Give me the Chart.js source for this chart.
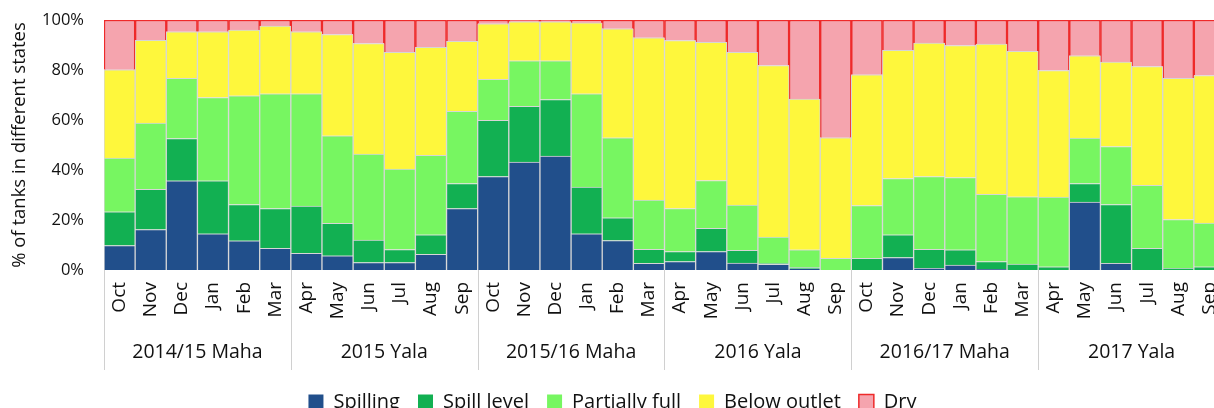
<!DOCTYPE html>
<html>
<head>
<meta charset="utf-8">
<script src="https://cdn.jsdelivr.net/npm/chart.js@4"></script>
<style>
  html, body { margin: 0; padding: 0; background: #fff; overflow: hidden; }
  #wrap { width: 1214px; height: 408px; overflow: hidden; }
</style>
</head>
<body>
<div id="wrap">
  <canvas id="tankChart" width="1225" height="422"></canvas>
</div>
<script>
// month ticks and season groups
const months = ['Oct', 'Nov', 'Dec', 'Jan', 'Feb', 'Mar', 'Apr', 'May', 'Jun', 'Jul', 'Aug', 'Sep',
  'Oct', 'Nov', 'Dec', 'Jan', 'Feb', 'Mar', 'Apr', 'May', 'Jun', 'Jul', 'Aug', 'Sep',
  'Oct', 'Nov', 'Dec', 'Jan', 'Feb', 'Mar', 'Apr', 'May', 'Jun', 'Jul', 'Aug', 'Sep'];
const seasons = ['2014/15 Maha', '2015 Yala', '2015/16 Maha', '2016 Yala', '2016/17 Maha', '2017 Yala'];
const yTicks = [0, 20, 40, 60, 80, 100];

// % of tanks in each state
const spilling = [9.8, 16.2, 35.7, 14.5, 11.7, 8.7, 6.7, 5.7, 3.0, 3.0, 6.3, 24.6,
  37.4, 43.2, 45.6, 14.5, 11.8, 2.7, 3.4, 7.4, 2.8, 2.3, 0.5, 0,
  0, 5.0, 0.7, 2.0, 0.3, 0, 0, 27.2, 2.7, 0, 0, 0];
const spillLevel = [13.5, 16.1, 16.9, 21.2, 14.5, 15.9, 18.9, 13.0, 9.0, 5.2, 7.8, 10.0,
  22.5, 22.3, 22.6, 18.7, 9.1, 5.6, 4.0, 9.3, 5.1, 0.3, 0.5, 0,
  4.7, 9.1, 7.6, 6.1, 3.1, 2.4, 1.3, 7.4, 23.5, 8.7, 0.7, 1.3];
const partiallyFull = [21.5, 26.5, 24.1, 33.3, 43.5, 45.9, 44.9, 35.0, 34.4, 32.2, 31.8, 28.9,
  16.4, 18.2, 15.5, 37.3, 32.0, 19.7, 17.2, 19.1, 18.1, 10.6, 7.1, 4.7,
  21.1, 22.5, 29.1, 28.9, 26.9, 26.9, 27.9, 18.2, 23.2, 25.2, 19.5, 17.5];
const belowOutlet = [35.3, 33.1, 18.6, 26.3, 26.3, 27.1, 24.8, 40.5, 44.2, 46.7, 43.2, 28.0,
  22.2, 15.6, 15.6, 28.4, 43.6, 64.9, 67.2, 55.3, 61.1, 68.6, 60.3, 48.2,
  52.3, 51.3, 53.4, 52.8, 60.1, 58.2, 50.6, 32.9, 33.8, 47.5, 56.5, 59.0];
const dry = [19.9, 8.1, 4.7, 4.7, 4.0, 2.4, 4.7, 5.8, 9.4, 12.9, 10.9, 8.5,
  1.5, 0.7, 0.7, 1.1, 3.5, 7.1, 8.2, 8.9, 12.9, 18.2, 31.6, 47.1,
  21.9, 12.1, 9.2, 10.2, 9.6, 12.5, 20.2, 14.3, 16.8, 18.6, 23.3, 22.2];

const FONT = "'Open Sans', 'Noto Sans', sans-serif";
const TEXT = '#111';
const GAP = '#d6d6d6';

function series(label, data, color, border, width) {
  return {
    label: label,
    data: data,
    backgroundColor: color,
    borderColor: border || GAP,
    borderWidth: width || 1,
    barPercentage: 1,
    categoryPercentage: 1,
  };
}

// light vertical lines between the season groups
const groupLines = {
  id: 'groupLines',
  afterDraw(chart) {
    const x = chart.scales.x;
    const x2 = chart.scales.x2;
    const half = (x.getPixelForValue(1) - x.getPixelForValue(0)) / 2;
    const c = chart.ctx;
    c.save();
    c.strokeStyle = '#d0d0d0';
    c.lineWidth = 1;
    for (let i = 0; i < months.length; i += 6) {
      const px = Math.round(x.getPixelForValue(i) - half) + 0.5;
      c.beginPath();
      c.moveTo(px, chart.chartArea.bottom);
      c.lineTo(px, x2.bottom - 4);
      c.stroke();
    }
    c.restore();
  },
};

const ctx = document.getElementById('tankChart').getContext('2d');
const tankChart = new Chart(ctx, {
  type: 'bar',
  data: {
    labels: months,
    datasets: [
      series('Spilling', spilling, '#214f8b'),
      series('Spill level', spillLevel, '#12b052'),
      series('Partially full', partiallyFull, '#77f661'),
      series('Below outlet', belowOutlet, '#fef73c'),
      series('Dry', dry, '#f5a4ae', '#ee2a2a', 1.5),
    ],
  },
  options: {
    responsive: false,
    animation: false,
    layout: { padding: { top: 20, left: 0, right: 0, bottom: 0 } },
    scales: {
      x: {
        stacked: true,
        offset: true,
        grid: { display: false, drawTicks: false },
        border: { display: false },
        ticks: {
          autoSkip: false,
          minRotation: 90,
          maxRotation: 90,
          padding: 12,
          color: TEXT,
          font: { family: FONT, size: 19 },
        },
        afterFit: (s) => {
          s.height = 52;
          s.paddingLeft = 0;
          s.paddingRight = 0;
        },
      },
      x2: {
        type: 'category',
        labels: seasons,
        position: 'bottom',
        offset: true,
        grid: { display: false, drawTicks: false },
        border: { display: false },
        ticks: {
          maxRotation: 0,
          padding: 19,
          color: TEXT,
          font: { family: FONT, size: 19.5 },
        },
        afterFit: (s) => {
          s.height = 52;
          s.paddingLeft = 0;
          s.paddingRight = 0;
        },
      },
      y: {
        stacked: true,
        min: 0,
        max: 100,
        grid: { display: false, drawTicks: false },
        border: { display: false },
        afterBuildTicks: (s) => { s.ticks = yTicks.map((v) => ({ value: v })); },
        ticks: {
          padding: 20,
          color: TEXT,
          font: { family: FONT, size: 16.5 },
          callback: (v) => v + '%',
        },
        title: {
          display: true,
          text: '% of tanks in different states',
          color: TEXT,
          font: { family: FONT, size: 18.5 },
          padding: { top: 9, bottom: 0 },
        },
        afterFit: (s) => {
          s.width = 104;
          s.paddingTop = 0;
          s.paddingBottom = 0;
        },
      },
    },
    plugins: {
      tooltip: { enabled: false },
      legend: {
        position: 'bottom',
        labels: {
          boxWidth: 15,
          boxHeight: 15,
          padding: 18,
          color: TEXT,
          font: { family: FONT, size: 20 },
          generateLabels(chart) {
            const items = Chart.defaults.plugins.legend.labels.generateLabels(chart);
            items.forEach((it) => {
              if (it.text !== 'Dry') {
                it.strokeStyle = it.fillStyle;
                it.lineWidth = 0;
              }
            });
            return items;
          },
        },
      },
    },
  },
  plugins: [groupLines],
});
</script>
</body>
</html>
